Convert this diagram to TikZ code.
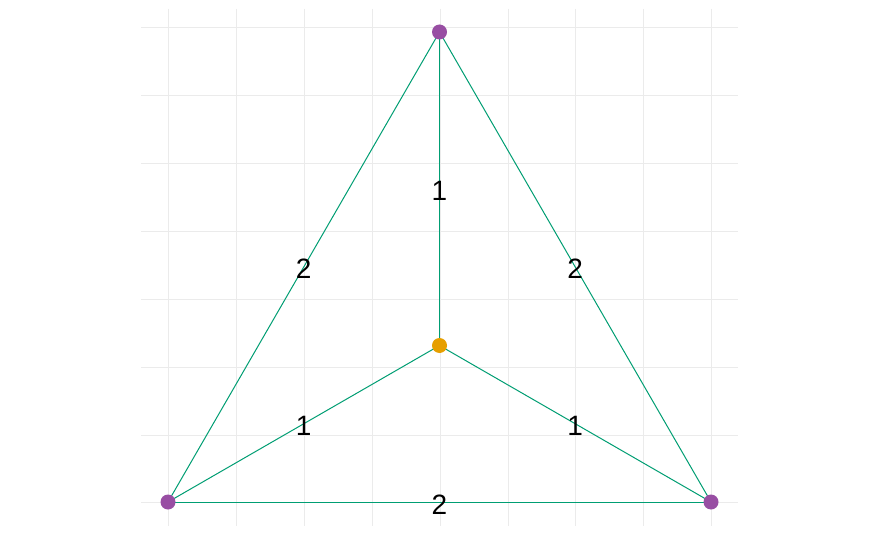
\documentclass[tikz,border=0pt]{standalone}
\usepackage{fontspec}
\setmainfont{Liberation Sans}
\usetikzlibrary{calc}
\definecolor{edgegreen}{HTML}{009E73}
\definecolor{vpurple}{HTML}{984EA3}
\definecolor{vorange}{HTML}{E69F00}
\definecolor{gridgray}{HTML}{EBEBEB}
\pgfdeclarelayer{gridlayer}
\pgfdeclarelayer{edgelayer}
\pgfsetlayers{gridlayer,edgelayer,main}
\begin{document}
\begin{tikzpicture}[x=1pt,y=-1pt,
  gridline/.style={draw=gridgray,line width=0.9pt},
  edge/.style={draw=edgegreen,line width=1pt},
  vert/.style={circle,inner sep=0pt,minimum size=15pt},
  elabel/.style={inner sep=0pt,font=\fontsize{28}{28}\selectfont,text=black}]
\useasboundingbox (0,0) rectangle (875,540);
% vertex dots
\node[vert,fill=vpurple] (nT) at (439.5,32) {};
\node[vert,fill=vpurple] (nL) at (168,502) {};
\node[vert,fill=vpurple] (nR) at (711,502) {};
\node[vert,fill=vorange] (nC) at (439.5,345.5) {};
\begin{pgfonlayer}{gridlayer}
\fill[white] (0,0) rectangle (875,540);
\foreach \gx in {168,236,304,372,440,508,575.5,643,711}
  \draw[gridline] (\gx,9) -- (\gx,526);
\foreach \gy in {27,95,163,231,299,367,435,502}
  \draw[gridline] (141,\gy) -- (738,\gy);
\end{pgfonlayer}
\begin{pgfonlayer}{edgelayer}
\draw[edge] (nT.center) -- (nL.center);
\draw[edge] (nT.center) -- (nR.center);
\draw[edge] (nL.center) -- (nR.center);
\draw[edge] (nT.center) -- (nC.center);
\draw[edge] (nL.center) -- (nC.center);
\draw[edge] (nR.center) -- (nC.center);
\end{pgfonlayer}
% edge labels
\node[elabel] (lTC) at ($(nT.center)!0.5!(nC.center)+(0,2)$) {1};
\node[elabel] (lTL) at ($(nT.center)!0.5!(nL.center)+(0,2)$) {2};
\node[elabel] (lTR) at ($(nT.center)!0.5!(nR.center)+(0,2)$) {2};
\node[elabel] (lLC) at ($(nL.center)!0.5!(nC.center)+(0,2)$) {1};
\node[elabel] (lRC) at ($(nR.center)!0.5!(nC.center)+(0,2)$) {1};
\node[elabel] (lLR) at ($(nL.center)!0.5!(nR.center)+(0,3)$) {2};
\end{tikzpicture}
\end{document}
